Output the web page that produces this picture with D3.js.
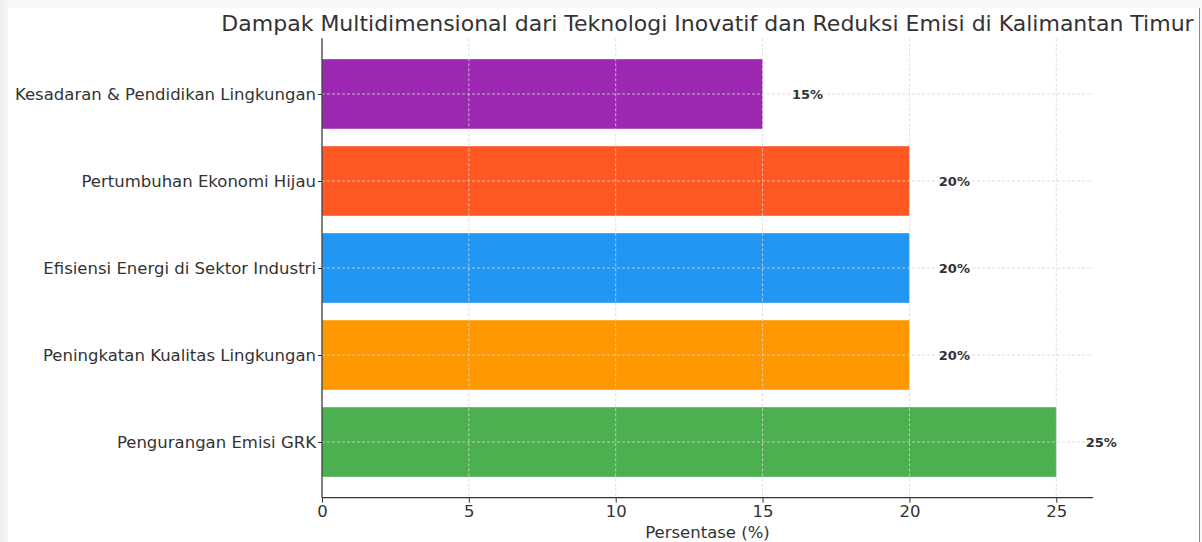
<!DOCTYPE html>
<html lang="en">
<head>
  <meta charset="utf-8">
  <title></title>
  <style type="text/css">
    html, body { margin: 0; padding: 0; }
    body  { width: 1202px; height: 542px; overflow: hidden;
            background: linear-gradient(to right, #ececec, #f7f7f7 8px, #f7f7f7); }
    .card { position: absolute; left: 8px; top: 8px; width: 1191px; height: 534px;
            background: #fff; border-right: 1px solid #8a8a8a; }
    svg   { position: absolute; left: 0; top: 0; }
    text  { font-family: "DejaVu Sans", sans-serif; fill: #333; }
    .grid line { stroke: #d6d6d6; stroke-dasharray: 3,2; stroke-width: 0.8; }
  </style>
</head>
<body>
<div class="card"></div>
<script src="https://cdn.jsdelivr.net/npm/d3@7"></script>
<script>
  //----------------------------------------------------------------------------
  var categories = ["Pengurangan Emisi GRK", "Peningkatan Kualitas Lingkungan",
                    "Efisiensi Energi di Sektor Industri", "Pertumbuhan Ekonomi Hijau",
                    "Kesadaran & Pendidikan Lingkungan"];
  var values = [25, 20, 20, 20, 15];
  var colors = ["#4CAF50", "#FF9800", "#2196F3", "#FF5722", "#9C27B0"];
  var xTicks = [0, 5, 10, 15, 20, 25];

  var width = 1202, height = 542;
  var plotLeft = 322, plotRight = 1093, plotTop = 38.3, plotBottom = 497.7;

  var svg = d3.select("body").append("svg")
      .attr("width", width)
      .attr("height", height);

  // matplotlib style limits: 5% margin around the data
  var x = d3.scaleLinear().domain([0, 26.25]).range([plotLeft, plotRight]);
  var y = d3.scaleLinear().domain([-0.64, 4.64]).range([plotBottom, plotTop]);

  // bars
  svg.selectAll("rect").data(values).enter().append("rect")
      .attr("x", x(0))
      .attr("y", (d, i) => y(i + 0.4))
      .attr("width", d => x(d) - x(0))
      .attr("height", y(-0.4) - y(0.4))
      .attr("fill", (d, i) => colors[i]);

  // grid, drawn over the bars as in the original
  var grid = svg.append("g").attr("class", "grid");
  grid.selectAll("line.v").data(xTicks).enter().append("line")
      .attr("class", "v")
      .attr("x1", d => x(d)).attr("x2", d => x(d))
      .attr("y1", plotTop).attr("y2", plotBottom);
  grid.selectAll("line.h").data(categories).enter().append("line")
      .attr("class", "h")
      .attr("x1", plotLeft).attr("x2", plotRight)
      .attr("y1", (d, i) => y(i)).attr("y2", (d, i) => y(i));

  // value labels
  svg.selectAll("text.val").data(values).enter().append("text")
      .attr("class", "val")
      .attr("x", d => x(d + 1))
      .attr("y", (d, i) => y(i))
      .attr("dy", "0.35em")
      .style("font-size", "13px")
      .style("font-weight", "bold")
      .text(d => d + "%");

  // axes
  var xAxis = svg.append("g")
      .attr("transform", "translate(0," + plotBottom + ")")
      .call(d3.axisBottom(x).tickValues(xTicks).tickSize(5).tickPadding(3));
  var yAxis = svg.append("g")
      .attr("transform", "translate(" + plotLeft + ",0)")
      .call(d3.axisLeft(y).tickValues(d3.range(categories.length))
        .tickFormat(i => categories[i]).tickSize(4).tickPadding(2));

  [xAxis, yAxis].forEach(function(a) {
    a.select(".domain").attr("stroke", "#333").attr("stroke-width", 1.2);
    a.selectAll(".tick line").attr("stroke", "#333");
    a.selectAll(".tick text").style("font-size", "16.5px").attr("fill", "#333");
  });
  xAxis.select(".domain").attr("d", "M" + plotLeft + ",0H" + plotRight);
  yAxis.select(".domain").attr("d", "M0," + plotTop + "V" + plotBottom);

  // titles
  svg.append("text")
      .attr("x", (plotLeft + plotRight) / 2).attr("y", 538)
      .attr("text-anchor", "middle")
      .style("font-size", "16.5px")
      .text("Persentase (%)");

  svg.append("text")
      .attr("x", (plotLeft + plotRight) / 2).attr("y", 31)
      .attr("text-anchor", "middle")
      .style("font-size", "22px")
      .text("Dampak Multidimensional dari Teknologi Inovatif dan Reduksi Emisi di Kalimantan Timur");
  //----------------------------------------------------------------------------
</script>
</body>
</html>
